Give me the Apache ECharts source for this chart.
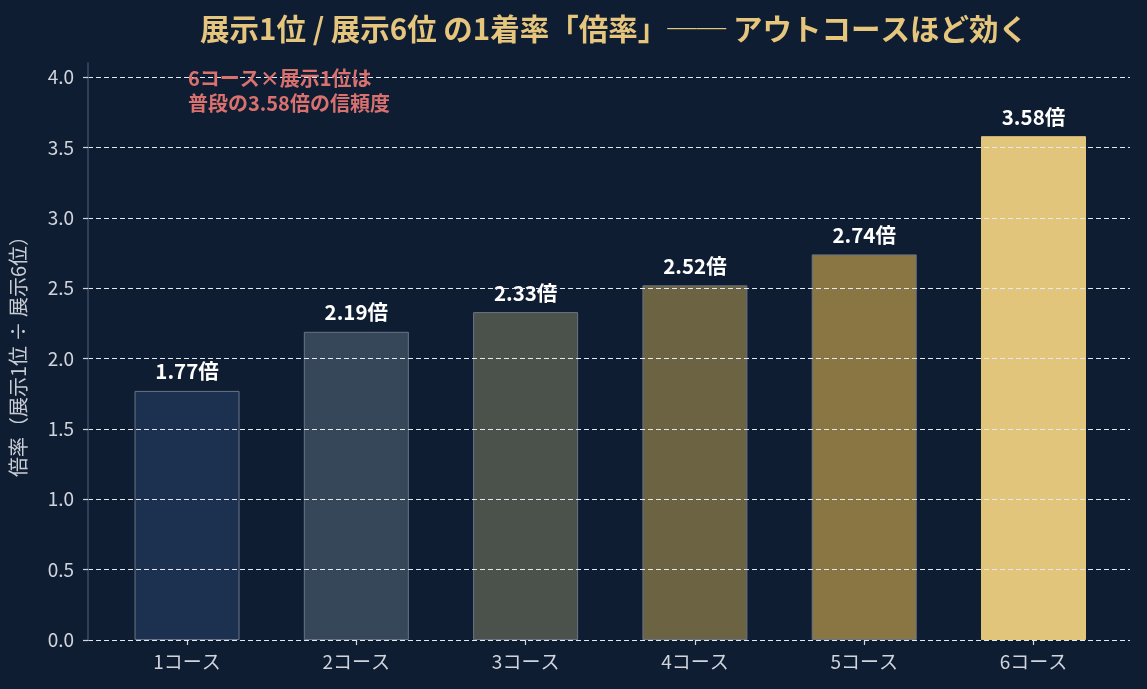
<!DOCTYPE html>
<html><head><meta charset="utf-8">
<script src="https://cdn.jsdelivr.net/npm/echarts@6/dist/echarts.min.js"></script>
<style>html,body{margin:0;padding:0;background:#0f1d33;}#c{width:1147px;height:689px;}</style>
</head><body><div id="c"></div>
<script>
const categories = ['1コース','2コース','3コース','4コース','5コース','6コース'];
const ratios = [1.77, 2.19, 2.33, 2.52, 2.74, 3.58];
const barColors = ['#1c3150','#364759','#4a524b','#6b6342','#8a7642','#e0c57b'];
const yTicks = [0,0.5,1,1.5,2,2.5,3,3.5,4];
const titleText = '展示1位 / 展示6位 の1着率「倍率」── アウトコースほど効く';
const yName = '倍率（展示1位 ÷ 展示6位）';
const noteLines = ['6コース×展示1位は','普段の3.58倍の信頼度'];

const font = '"Noto Sans CJK JP","Noto Sans",sans-serif';
const chart = echarts.init(document.getElementById('c'), null, {renderer:'canvas'});
chart.setOption({
  backgroundColor:'#0f1d33',
  animation:false,
  textStyle:{fontFamily:font},
  grid:{left:87,right:17,top:63,bottom:49},
  xAxis:{type:'value',min:-0.585,max:5.57,
    axisLine:{show:true,onZero:false,lineStyle:{color:'rgba(0,0,0,0)'}},
    splitLine:{show:false},
    axisTick:{show:true,customValues:[0,1,2,3,4,5],length:5,lineStyle:{color:'#d0d4dc',width:1.2}},
    axisLabel:{customValues:[0,1,2,3,4,5],formatter:v=>categories[Math.round(v)],color:'#d0d4dc',fontSize:19,margin:12,fontFamily:font}
  },
  yAxis:{type:'value',min:0,max:4.1,z:10,
    name:yName,nameLocation:'middle',nameGap:60,nameRotate:90,
    nameTextStyle:{color:'#c8ccd4',fontSize:20,fontFamily:font},
    axisLine:{show:true,onZero:false,lineStyle:{color:'#3e4c66',width:1.5}},
    axisTick:{show:true,customValues:yTicks,length:5,lineStyle:{color:'#d0d4dc',width:1.2}},
    axisLabel:{customValues:yTicks,formatter:v=>v.toFixed(1),color:'#d0d4dc',fontSize:19,margin:14,fontFamily:font},
    splitLine:{show:true,customValues:yTicks,lineStyle:{color:'#e4e8f0',type:[5,3],width:1.2}}
  },
  series:[{
    type:'bar',z:1,barWidth:105,
    data:ratios.map((v,i)=>({value:[i,v],itemStyle:{color:barColors[i],borderColor:i===5?'#e0c57b':'#6a7486',borderWidth:1}})),
    label:{show:true,position:'top',distance:9,formatter:p=>p.value[1].toFixed(2)+'倍',color:'#ffffff',fontSize:20.5,fontWeight:'bold',fontFamily:font}
  }],
  graphic:[
    {type:'text',x:614,y:29,z:100,style:{text:titleText,fill:'#e6c57c',font:'bold 29.5px '+font,textAlign:'center',textVerticalAlign:'middle'}},
    {type:'text',left:188,top:66,z:100,style:{text:noteLines.join('\n'),fill:'#d9716f',font:'bold 20px '+font,lineHeight:25}}
  ]
});
</script></body></html>
